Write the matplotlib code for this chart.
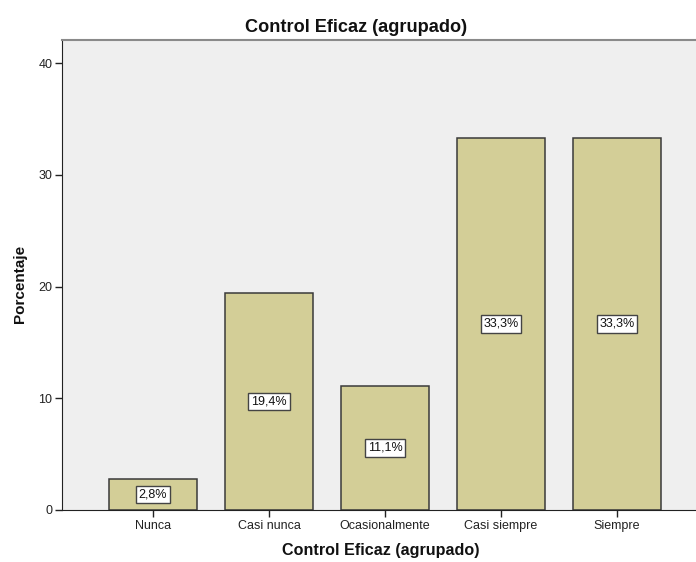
import matplotlib.pyplot as plt

plt.rcParams["font.family"] = ["Liberation Sans", "DejaVu Sans"]

categorias = ["Nunca", "Casi nunca", "Ocasionalmente", "Casi siempre", "Siempre"]
porcentajes = [2.8, 19.4, 11.1, 33.3, 33.3]
yticks = [0, 10, 20, 30, 40]

fig = plt.figure(figsize=(6.96, 5.62), dpi=100)
ax = fig.add_axes([62 / 696, 52 / 562, 1 - 62 / 696, 470 / 562])
ax.set_facecolor("#efefef")

x = range(len(categorias))
ax.bar(x, porcentajes, width=0.76, color="#d3ce97", edgecolor="#3a3a3a", linewidth=1.1, zorder=2)

# etiqueta de porcentaje en el centro de cada barra
for xi, v in zip(x, porcentajes):
    ax.text(xi, v / 2, f"{v:.1f}%".replace(".", ","), ha="center", va="center",
            fontsize=9, color="#111111", zorder=3,
            bbox=dict(boxstyle="square,pad=0.22", fc="white", ec="#444444", lw=1.0))

ax.set_xlim(-0.784, 4.68)
ax.set_ylim(0, 42.06)
ax.set_xticks(list(x))
ax.set_xticklabels(categorias, fontsize=9, color="#222222")
ax.set_yticks(yticks)
ax.set_yticklabels([str(t) for t in yticks], fontsize=9, color="#222222")
ax.tick_params(direction="out", length=5, width=1, color="#222222", pad=2)

ax.spines["left"].set_color("#222222")
ax.spines["bottom"].set_color("#222222")
ax.spines["top"].set_color("#8a8a8a")
ax.spines["top"].set_linewidth(1.5)
ax.spines["right"].set_visible(False)

fig.text(356 / 696, 1 - 28 / 562, "Control Eficaz (agrupado)", ha="center", va="center",
         fontsize=13.1, fontweight="bold", color="#111111")
fig.text(381 / 696, 1 - 551 / 562, "Control Eficaz (agrupado)", ha="center", va="center",
         fontsize=11.6, fontweight="bold", color="#111111")
fig.text(20 / 696, 1 - 284 / 562, "Porcentaje", ha="center", va="center", rotation=90,
         fontsize=11, fontweight="bold", color="#111111")

fig.savefig("out.png", dpi=100)
